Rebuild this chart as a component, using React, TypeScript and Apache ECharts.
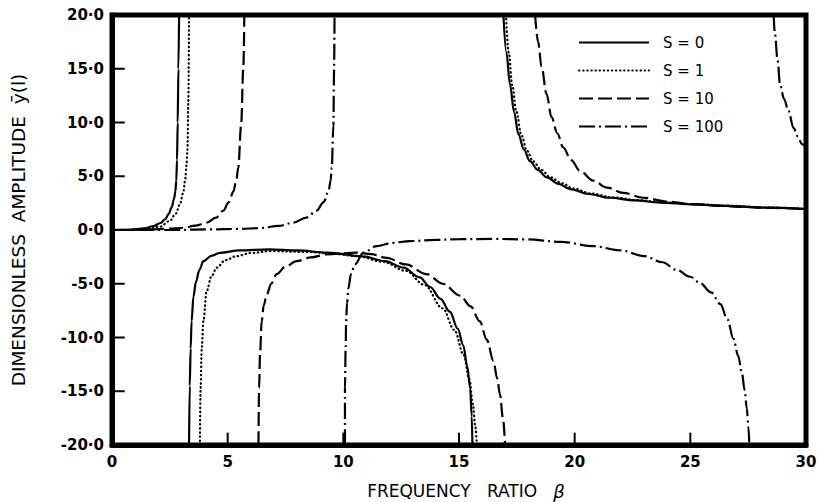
import React, { useEffect, useRef } from "react";
import * as echarts from "echarts";

// ---- data (x = frequency ratio β, y = amplitude) ----
const legendNames = ["S = 0", "S = 1", "S = 10", "S = 100"];
const xTicks = [0, 5, 10, 15, 20, 25, 30];
const yTicks = [-20, -15, -10, -5, 0, 5, 10, 15, 20];

// S = 0
const s0Rise = [[0,0],[0.8,0.02],[1.4,0.15],[1.8,0.37],[2.1,0.65],[2.3,1.0],[2.45,1.5],[2.58,2.1],[2.68,2.9],[2.74,3.6],[2.78,4.6],[2.81,6.5],[2.84,10],[2.87,15],[2.9,20]];
const s0Dip = [[3.33,-20],[3.36,-14.5],[3.4,-11],[3.44,-8.5],[3.52,-6.2],[3.63,-4.8],[3.78,-3.7],[3.95,-2.9],[4.3,-2.4],[4.67,-2.12],[5.5,-1.9],[6.8,-1.8],[8.0,-1.9],[9.3,-2.1],[10.85,-2.45],[11.8,-2.9],[12.6,-3.5],[13.3,-4.4],[13.75,-5.3],[14.2,-6.4],[14.6,-7.6],[14.95,-9.2],[15.18,-10.7],[15.36,-12.7],[15.48,-14.7],[15.55,-17.3],[15.58,-20]];
const s0Tail = [[16.92,20],[17.05,16.5],[17.2,13.6],[17.38,11],[17.57,8.9],[17.8,7.5],[18.07,6.4],[18.4,5.6],[18.8,4.9],[19.3,4.3],[19.8,3.8],[20.6,3.35],[21.5,3.0],[22.6,2.75],[23.7,2.55],[25.1,2.38],[26.6,2.24],[28.2,2.08],[30,1.95]];

// S = 1
const s1Rise = [[0,0],[1.0,0.03],[1.6,0.12],[2.07,0.3],[2.5,0.85],[2.75,1.5],[2.94,2.4],[3.08,3.5],[3.16,4.6],[3.22,6],[3.26,7.4],[3.3,12],[3.33,20]];
const s1Dip = [[3.8,-20],[3.83,-14.7],[3.88,-11],[3.95,-8.5],[4.09,-5.7],[4.3,-4.3],[4.53,-3.5],[4.9,-2.8],[5.39,-2.43],[6.0,-2.15],[6.83,-1.96],[8.5,-2.05],[9.5,-2.2],[10.58,-2.43],[11.7,-2.95],[12.7,-3.8],[13.5,-5.1],[14.3,-7.3],[14.8,-9.3],[15.2,-11.6],[15.45,-13.9],[15.6,-16.2],[15.7,-18.2],[15.77,-20]];
const s1Tail = [[17.03,20],[17.15,16.5],[17.3,13.5],[17.48,11],[17.7,8.8],[17.93,7.4],[18.2,6.4],[18.55,5.6],[18.95,4.9],[19.45,4.35],[19.95,3.85],[20.7,3.4],[21.6,3.05],[22.7,2.78],[23.8,2.58],[25.2,2.4],[26.6,2.26],[28.2,2.1],[30,1.97]];

// S = 10
const s10Rise = [[0,0],[1.6,0.05],[2.4,0.12],[3.08,0.21],[3.6,0.4],[4.09,0.68],[4.5,1.15],[4.81,1.8],[5.05,2.6],[5.25,3.6],[5.37,4.6],[5.46,5.8],[5.58,9.7],[5.68,15.2],[5.72,20]];
const s10Dip = [[6.33,-20],[6.36,-14.7],[6.4,-11.5],[6.47,-8.5],[6.56,-7],[6.69,-6.0],[6.88,-5],[7.12,-4.1],[7.5,-3.4],[7.98,-2.9],[8.6,-2.55],[9.28,-2.27],[10.58,-2.1],[11.2,-2.25],[11.88,-2.6],[12.7,-3.2],[13.6,-4.1],[14.3,-5],[15.05,-6.1],[15.5,-7.1],[15.9,-8.5],[16.2,-10.2],[16.49,-12.2],[16.65,-13.8],[16.77,-15.3],[16.9,-17.5],[16.99,-20]];
const s10Tail = [[18.29,20],[18.42,17.5],[18.57,15.2],[18.78,12.7],[19.0,10.5],[19.25,9],[19.5,7.7],[19.85,6.5],[20.23,5.5],[20.8,4.6],[21.39,3.95],[22.1,3.45],[22.97,3.0],[24.0,2.65],[25.1,2.4],[26.2,2.25],[27.3,2.15],[28.6,2.05],[30,1.95]];

// S = 100
const s100Rise = [[0,0],[2.5,0.0],[4.2,0.05],[5.5,0.1],[6.4,0.18],[7.2,0.38],[7.84,0.68],[8.4,1.15],[8.85,1.8],[9.15,2.6],[9.36,3.6],[9.45,4.6],[9.5,5.8],[9.57,9.7],[9.6,15],[9.62,20]];
const s100Dip = [[10.07,-20],[10.07,-14.7],[10.1,-11],[10.12,-8.5],[10.16,-6.8],[10.22,-5.4],[10.33,-4.1],[10.5,-3.2],[10.87,-2.1],[11.44,-1.5],[12.1,-1.2],[12.88,-1.03],[14.0,-0.92],[15.05,-0.85],[16.5,-0.83],[17.9,-0.87],[19.4,-1.1],[20.8,-1.5],[22.0,-1.9],[23.0,-2.43],[23.8,-3.0],[24.4,-3.7],[25.0,-4.35],[25.4,-4.9],[25.9,-5.8],[26.3,-6.9],[26.6,-8.3],[26.86,-10.1],[27.07,-11.7],[27.22,-13.2],[27.35,-14.9],[27.44,-16.6],[27.51,-18.3],[27.55,-20]];
const s100Tail = [[28.6,20],[28.66,18.2],[28.77,15.8],[28.88,13.5],[29.05,12.2],[29.24,11.1],[29.46,9.5],[29.65,8.7],[29.82,8.0],[30,7.6]];

const FONT = "DejaVu Sans";

const fmtY = (v: number) => (v < 0 ? "-" : "") + Math.abs(v).toFixed(1).replace(".", "·");

export default function App() {
  const ref = useRef<HTMLDivElement>(null);
  useEffect(() => {
    if (!ref.current) return;
    const chart = echarts.init(ref.current, null, { renderer: "svg" });

    const groups = [
      { name: legendNames[0], type: "solid" as any, width: 2.2, cap: "butt", branches: [s0Rise, s0Dip, s0Tail] },
      { name: legendNames[1], type: [0.5, 3.6], width: 2.2, cap: "round", branches: [s1Rise, s1Dip, s1Tail] },
      { name: legendNames[2], type: [14, 5], width: 2.2, cap: "butt", branches: [s10Rise, s10Dip, s10Tail] },
      { name: legendNames[3], type: [16, 4, 2, 4], width: 2.2, cap: "butt", branches: [s100Rise, s100Dip, s100Tail] },
    ];

    const series: any[] = [];
    groups.forEach((g) => {
      g.branches.forEach((b) => {
        series.push({
          type: "line",
          name: g.name,
          data: b,
          symbol: "none",
          smooth: 0.35,
          smoothMonotone: "x",
          clip: true,
          lineStyle: { color: "#000", width: g.width, type: g.type, cap: g.cap },
          itemStyle: { color: "#000" },
          emphasis: { disabled: true },
          z: 3,
        });
      });
    });

    // inward tick marks drawn as short line series (same pipeline as the curves)
    const xMin = xTicks[0];
    const yMin = yTicks[0];
    const tickLenX = 0.55; // in x units (~12px)
    const tickLenY = 1.15; // in y units (~12px)
    const tickStyle = { color: "#000", width: 2, type: "solid" as any };
    xTicks.slice(1, -1).forEach((v) => {
      series.push({
        type: "line", name: "xtick", data: [[v, yMin], [v, yMin + tickLenY]],
        symbol: "none", silent: true, clip: false, z: 5,
        lineStyle: tickStyle, emphasis: { disabled: true },
      });
    });
    yTicks.slice(1, -1).forEach((v) => {
      series.push({
        type: "line", name: "ytick", data: [[xMin, v], [xMin + tickLenX, v]],
        symbol: "none", silent: true, clip: false, z: 5,
        lineStyle: tickStyle, emphasis: { disabled: true },
      });
    });

    const line = { show: true, onZero: false, lineStyle: { color: "#000", width: 5 } };

    chart.setOption({
      animation: false,
      backgroundColor: "#fff",
      grid: {
        left: 112, right: 12, top: 15, bottom: 57,
        show: true, borderColor: "#000", borderWidth: 5,
        outerBoundsMode: "none",
      },
      legend: {
        data: legendNames,
        orient: "vertical",
        left: 578, top: 35, padding: 0,
        itemWidth: 70, itemHeight: 14, itemGap: 13,
        selectedMode: false,
        itemStyle: { color: "rgba(0,0,0,0)", borderWidth: 0, opacity: 0 },
        textStyle: { color: "#000", fontFamily: FONT, fontSize: 15, padding: [0, 0, 0, 9] },
      },
      xAxis: {
        type: "value", min: xTicks[0], max: xTicks[xTicks.length - 1], interval: 5,
        axisLine: line,
        axisTick: { show: false },
        splitLine: { show: false },
        axisLabel: { color: "#000", fontFamily: FONT, fontSize: 15, fontWeight: "bold", margin: 9, formatter: (v: number) => String(v) },
        name: "FREQUENCY   RATIO   {b|β}",
        nameLocation: "middle",
        nameGap: 37,
        nameTextStyle: {
          color: "#000", fontFamily: FONT, fontSize: 17, padding: [0, 0, 0, 14],
          rich: { b: { fontStyle: "italic", fontFamily: FONT, fontSize: 18, color: "#000" } },
        },
      },
      yAxis: {
        type: "value", min: yTicks[0], max: yTicks[yTicks.length - 1], interval: 5,
        axisLine: line,
        axisTick: { show: false },
        splitLine: { show: false },
        axisLabel: { color: "#000", fontFamily: FONT, fontSize: 15, fontWeight: "bold", margin: 8, formatter: fmtY },
        name: "DIMENSIONLESS  AMPLITUDE  ȳ(l)",
        nameLocation: "middle",
        nameGap: 84,
        nameTextStyle: { color: "#000", fontFamily: FONT, fontSize: 18.5 },
      },
      series,
    });

    return () => chart.dispose();
  }, []);
  return (
    <div
      ref={ref}
      style={{ position: "fixed", left: 0, top: 0, width: 818, height: 502, background: "#fff" }}
    />
  );
}
